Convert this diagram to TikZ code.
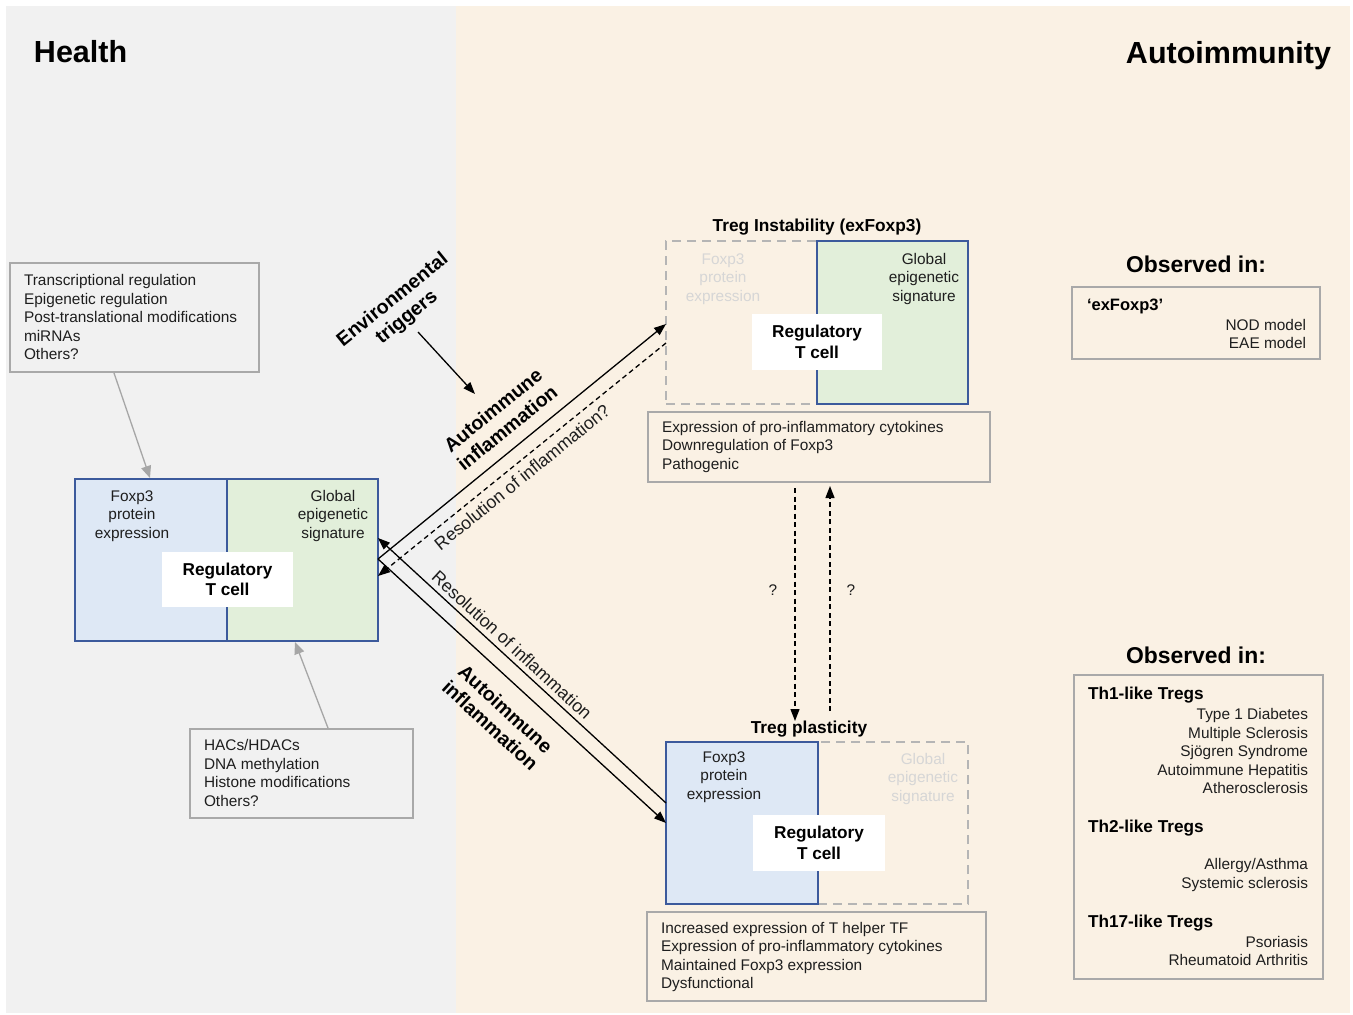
\documentclass[tikz,border=0pt]{standalone}
\usepackage{fontspec}
\setmainfont{Liberation Sans}
\usetikzlibrary{arrows.meta}
\definecolor{bghealth}{HTML}{F1F1F1}
\definecolor{bgauto}{HTML}{FAF1E4}
\definecolor{cellblue}{HTML}{DEE8F5}
\definecolor{cellgreen}{HTML}{E2EFDA}
\definecolor{cellline}{HTML}{3C5A9C}
\definecolor{infogray}{HTML}{A9A9A9}
\definecolor{ghostline}{HTML}{B5B5B5}
\definecolor{ghosttxt}{HTML}{D6D6D6}
\definecolor{txtcol}{HTML}{1E1E1E}
\definecolor{arrgray}{HTML}{A6A6A6}
\tikzset{
  panel/.style 2 args={anchor=north west, rectangle, minimum width=#1pt, minimum height=#2pt},
  infobox/.style={draw=infogray, line width=1.5pt},
  bluecell/.style={draw=cellline, line width=2pt, fill=cellblue},
  greencell/.style={draw=cellline, line width=2pt, fill=cellgreen},
  ghostcell/.style={draw=ghostline, line width=2pt, dash pattern=on 9pt off 6pt},
  bodytext/.style={font=\fontsize{15.4}{18.5}\selectfont, text=txtcol},
  ghosttext/.style={font=\fontsize{15.4}{18.5}\selectfont, text=ghosttxt, align=center},
  cellname/.style={fill=white, font=\bfseries\fontsize{17.2}{20.5}\selectfont, align=center},
  heading/.style={font=\bfseries\fontsize{30.5}{34}\selectfont},
  subhead/.style={font=\bfseries\fontsize{22.9}{26}\selectfont},
  trtitle/.style={font=\bfseries\fontsize{17.3}{20}\selectfont},
  groupname/.style={font=\bfseries\fontsize{17.2}{20}\selectfont, anchor=base west},
  flowbold/.style={font=\bfseries\fontsize{19.6}{22.5}\selectfont, align=center},
  flowplain/.style={font=\fontsize{17.8}{21}\selectfont, text=txtcol},
  arr/.style={line width=1.3pt, -{Triangle[length=12pt,width=9pt]}},
  dasharr/.style={arr, dash pattern=on 5pt off 3.5pt},
  grayarr/.style={draw=arrgray, line width=1.3pt, -{Triangle[length=12pt,width=10pt]}}
}
\begin{document}
\begin{tikzpicture}[x=1pt,y=-1pt, every node/.style={inner sep=0pt, outer sep=0pt}]
\useasboundingbox (0,0) rectangle (1353,1015);
\fill[white] (0,0) rectangle (1353,1015);
\fill[bghealth] (6,6) rectangle (456,1013);
\fill[bgauto] (456,6) rectangle (1350,1013);

% headings
\node[heading, anchor=base west] (health) at (34,62) {Health};
\node[heading, anchor=base east] (autoimm) at (1331,63) {Autoimmunity};

% ---------- left Treg (health)
\node[panel={152}{162}, bluecell] (lfox) at (75,479) {};
\node[panel={151}{162}, greencell] (lepi) at (227,479) {};
\node[bodytext, align=center] (lfoxt) at (132,516) {Foxp3\\protein\\expression};
\node[bodytext, align=center] (lepit) at (333,516) {Global\\epigenetic\\signature};
\node[cellname, minimum width=131pt, minimum height=55pt] (lname) at (227.5,579.5) {Regulatory\\T cell};

% info boxes left
\node[panel={249}{109}, infobox] (regbox) at (10,263) {};
\node[bodytext, align=left, anchor=west] (regtext) at (24,317) {Transcriptional regulation\\Epigenetic regulation\\Post-translational modifications\\miRNAs\\Others?};
\node[panel={223}{89}, infobox] (epibox) at (190,729) {};
\node[bodytext, align=left, anchor=west] (epitext) at (204,773) {HACs/HDACs\\DNA methylation\\Histone modifications\\Others?};

\coordinate (regtail) at (114,373);
\coordinate (reghead) at (150,478);
\coordinate (epitail) at (328,728);
\coordinate (epihead) at (295,642);
\draw[grayarr] (regtail) -- (reghead);
\draw[grayarr] (epitail) -- (epihead);

% ---------- top right Treg (instability)
\node[trtitle, anchor=base] (instab) at (817,231) {Treg Instability (exFoxp3)};
\node[panel={151}{163}, ghostcell] (tfox) at (666,241) {};
\node[panel={151}{163}, greencell] (tepi) at (817,241) {};
\node[ghosttext] (tfoxt) at (723,279) {Foxp3\\protein\\expression};
\node[bodytext, align=center] (tepit) at (924,279) {Global\\epigenetic\\signature};
\node[cellname, minimum width=130pt, minimum height=56pt] (tname) at (817,342) {Regulatory\\T cell};
\node[panel={342}{70}, infobox] (tinfo) at (648,412) {};
\node[bodytext, align=left, anchor=west] (tinfot) at (662,447) {Expression of pro-inflammatory cytokines\\Downregulation of Foxp3\\Pathogenic};

% ---------- bottom right Treg (plasticity)
\node[trtitle, anchor=base] (plast) at (809,733) {Treg plasticity};
\node[panel={150}{162}, ghostcell] (bepi) at (818,742) {};
\node[panel={152}{162}, bluecell] (bfox) at (666,742) {};
\node[bodytext, align=center] (bfoxt) at (724,777) {Foxp3\\protein\\expression};
\node[ghosttext] (bepit) at (923,779) {Global\\epigenetic\\signature};
\node[cellname, minimum width=132pt, minimum height=56pt] (bname) at (819,843) {Regulatory\\T cell};
\node[panel={339}{89}, infobox] (binfo) at (647,912) {};
\node[bodytext, align=left, anchor=west] (binfot) at (661,957) {Increased expression of T helper TF\\Expression of pro-inflammatory cytokines\\Maintained Foxp3 expression\\Dysfunctional};

% ---------- vertical dashed arrows
\coordinate (dntail) at (795,488);
\coordinate (dnhead) at (795,721);
\coordinate (uptail) at (830,711);
\coordinate (uphead) at (830,486);
\draw[dasharr] (dntail) -- (dnhead);
\draw[dasharr] (uptail) -- (uphead);
\node[bodytext] (q1) at (773,590) {?};
\node[bodytext] (q2) at (851,590) {?};

% ---------- flows between health and autoimmunity
\coordinate (lout) at (378,559);
\coordinate (linres) at (378,538);
\coordinate (lindash) at (378,576);
\coordinate (trin) at (666,324);
\coordinate (trout) at (666,343);
\coordinate (brin) at (666,823);
\coordinate (brout) at (666,803);
\draw[arr] (lout) -- (trin);
\draw[dasharr] (trout) -- (lindash);
\draw[arr] (lout) -- (brin);
\draw[arr] (brout) -- (linres);

\node[flowbold, rotate=39] (envtext) at (400,309) {Environmental\\triggers};
\coordinate (envtail) at (418,332);
\coordinate (envhead) at (475,394);
\draw[arr] (envtail) -- (envhead);

\node[flowbold, rotate=39] (aiup) at (500,419) {Autoimmune\\inflammation};
\node[flowplain, rotate=39] (resq) at (522,477) {Resolution of inflammation?};
\node[flowplain, rotate=-42.6] (reslow) at (512,645) {Resolution of inflammation};
\node[flowbold, rotate=-42.6] (ailow) at (498,717) {Autoimmune\\inflammation};

% ---------- observed in (top)
\node[subhead, anchor=base] (obs1) at (1196,272) {Observed in:};
\node[panel={248}{72}, infobox] (obs1box) at (1072,287) {};
\node[groupname, font=\bfseries\fontsize{16.5}{20}\selectfont] (exf) at (1087,310) {‘exFoxp3’};
\node[bodytext, align=right, anchor=east] (obs1list) at (1306,334) {NOD model\\EAE model};

% ---------- observed in (bottom)
\node[subhead, anchor=base] (obs2) at (1196,663) {Observed in:};
\node[panel={249}{304}, infobox] (obs2box) at (1074,675) {};
\node[groupname] (th1) at (1088,699) {Th1-like Tregs};
\node[bodytext, align=right, anchor=east] (th1list) at (1308,751) {Type 1 Diabetes\\Multiple Sclerosis\\Sjögren Syndrome\\Autoimmune Hepatitis\\Atherosclerosis};
\node[groupname] (th2) at (1088,832) {Th2-like Tregs};
\node[bodytext, align=right, anchor=east] (th2list) at (1308,875) {Allergy/Asthma\\Systemic sclerosis};
\node[groupname] (th17) at (1088,927) {Th17-like Tregs};
\node[bodytext, align=right, anchor=east] (th17list) at (1308,951) {Psoriasis\\Rheumatoid Arthritis};
\end{tikzpicture}
\end{document}
